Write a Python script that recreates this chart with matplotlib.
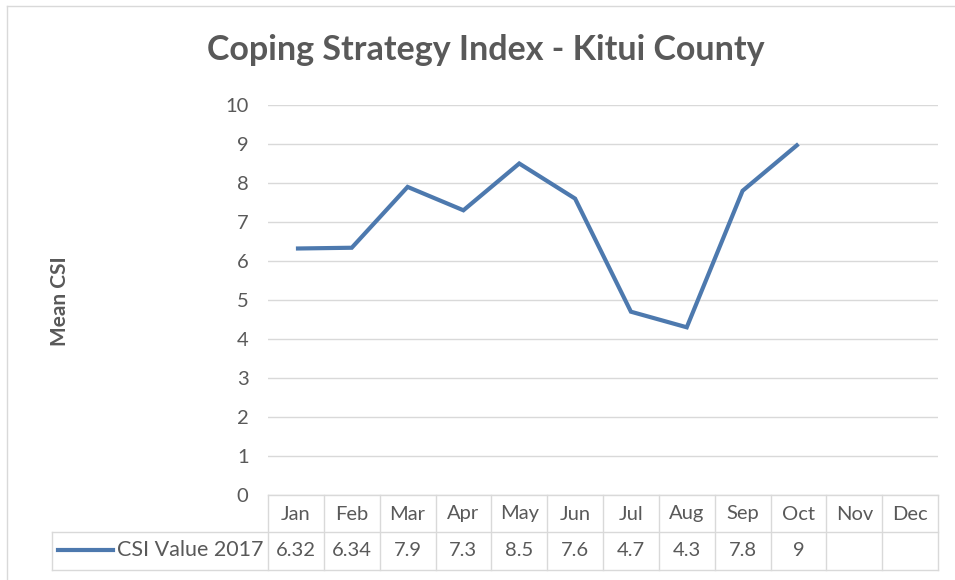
import numpy as np
import matplotlib
matplotlib.use("Agg")
from matplotlib import pyplot as plt
from matplotlib.lines import Line2D
from matplotlib.transforms import blended_transform_factory

months = ["Jan", "Feb", "Mar", "Apr", "May", "Jun",
          "Jul", "Aug", "Sep", "Oct", "Nov", "Dec"]
csi_2017 = [6.32, 6.34, 7.9, 7.3, 8.5, 7.6, 4.7, 4.3, 7.8, 9, None, None]
series_name = "CSI Value 2017"
y_ticks = list(range(0, 11))

W, H = 955, 580
blue = "#4d79ae"
grid_c = "#d9d9d9"
text_c = "#595959"
fs = 14.5

plt.rcParams["font.family"] = ["Lato", "DejaVu Sans"]

fig = plt.figure(figsize=(W / 100, H / 100), dpi=100)


def fx(px):
    return px / W


def fy(py):
    return 1 - py / H


# plot area
left, right, top, bottom = 268, 938, 105, 495
ax = fig.add_axes([fx(left), fy(bottom), fx(right - left), fy(top) - fy(bottom)])
x = np.arange(len(months))
y = np.array([np.nan if v is None else v for v in csi_2017], dtype=float)
ax.plot(x, y, color=blue, lw=3, solid_joinstyle="miter", solid_capstyle="butt")
ax.set_xlim(-0.5, len(months) - 0.5)
ax.set_ylim(0, 10)
ax.set_yticks(y_ticks)
ax.set_xticks([])
ax.yaxis.grid(True, color=grid_c, lw=1)
ax.set_axisbelow(True)
for s in ax.spines.values():
    s.set_visible(False)
ax.tick_params(axis="y", length=0, pad=14, labelsize=fs, labelcolor=text_c)

fig.text(fx(486), fy(50), "Coping Strategy Index - Kitui County", fontsize=24.5,
         fontweight="bold", color=text_c, ha="center", va="center")
fig.text(fx(60), fy(301), "Mean CSI", rotation=90, fontsize=15, fontweight="bold",
         color=text_c, ha="center", va="center")

# data table under the axis
tr = blended_transform_factory(ax.transData, fig.transFigure)
row_top, row_mid, row_bot = fy(495), fy(532), fy(570)
x0, x1 = -0.5, len(months) - 0.5
key_left = x0 - (left - 52) / ((right - left) / len(months))
lkw = dict(color=grid_c, lw=1, transform=tr, clip_on=False)
fig.add_artist(Line2D([x0, x1], [row_top, row_top], **lkw))
fig.add_artist(Line2D([key_left, x1], [row_mid, row_mid], **lkw))
fig.add_artist(Line2D([key_left, x1], [row_bot, row_bot], **lkw))
fig.add_artist(Line2D([key_left, key_left], [row_mid, row_bot], **lkw))
for b in np.arange(len(months) + 1) - 0.5:
    fig.add_artist(Line2D([b, b], [row_top, row_bot], **lkw))

hdr_y = fy(514)
val_y = fy(550)
for i, m in enumerate(months):
    fig.text(i, hdr_y, m, transform=tr, ha="center", va="center",
             fontsize=fs, color=text_c)
    v = csi_2017[i]
    if v is not None:
        fig.text(i, val_y, f"{v:g}", transform=tr, ha="center", va="center",
                 fontsize=fs, color=text_c)

fig.add_artist(Line2D([fx(58), fx(113)], [val_y, val_y], color=blue, lw=3,
                      transform=fig.transFigure))
fig.text(fx(263), val_y, series_name, ha="right", va="center",
         fontsize=15.5, color=text_c)

# chart frame
fig.add_artist(Line2D([fx(7), fx(7)], [0, fy(6)], color=grid_c, lw=1,
                      transform=fig.transFigure))
fig.add_artist(Line2D([fx(7), 1], [fy(6), fy(6)], color=grid_c, lw=1,
                      transform=fig.transFigure))

fig.savefig("out.png", dpi=100, facecolor="white")
